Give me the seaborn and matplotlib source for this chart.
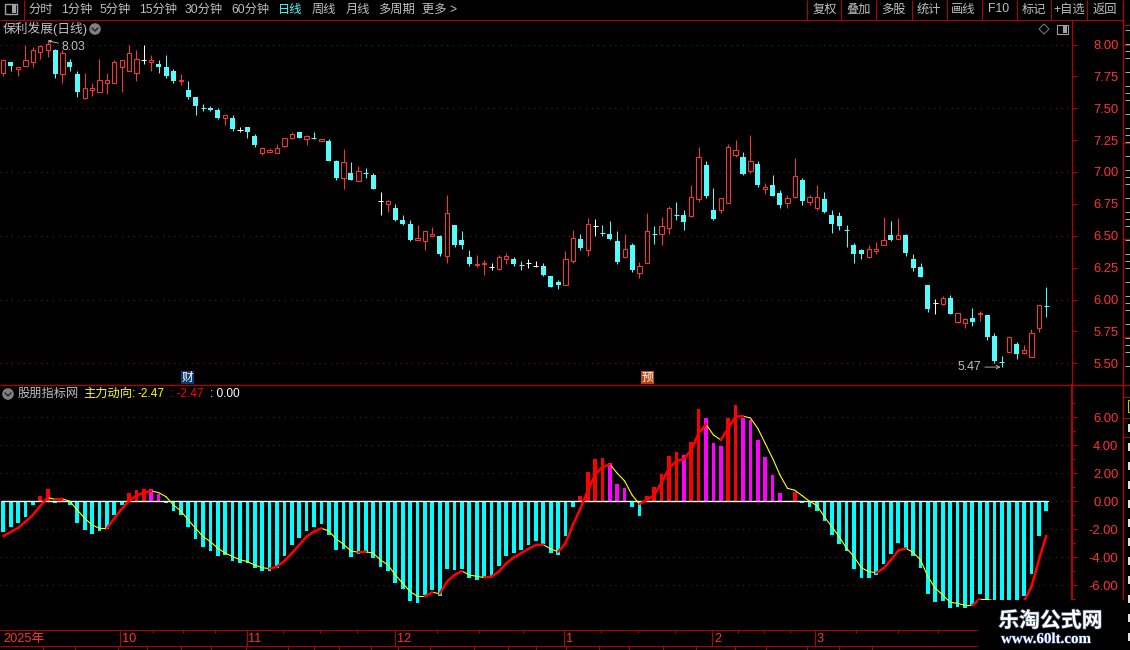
import matplotlib
matplotlib.use("Agg")
import matplotlib.pyplot as plt
import matplotlib.patheffects as pe
from matplotlib.patches import Circle, Rectangle, Polygon
import numpy as np
import pandas as pd
import seaborn as sns

# ---------- data ----------
opens = [7.78,7.86,7.81,7.83,7.86,7.94,7.96,7.96,7.77,7.86,
         7.77,7.58,7.64,7.63,7.70,7.70,7.82,7.79,7.78,7.88,
         7.86,7.85,7.82,7.79,7.71,7.64,7.59,7.505,7.50,7.49,
         7.42,7.42,7.33,7.35,7.28,7.15,7.16,7.15,7.20,7.27,
         7.31,7.26,7.275,7.24,7.24,7.09,6.95,6.99,6.93,6.995,
         6.98,6.77,6.75,6.72,6.62,6.59,6.465,6.46,6.50,6.50,
         6.34,6.585,6.47,6.33,6.27,6.275,6.255,6.24,6.315,6.32,
         6.275,6.285,6.26,6.26,6.185,6.14,6.11,6.30,6.475,6.385,
         6.575,6.525,6.515,6.46,6.33,6.43,6.21,6.29,6.515,6.51,
         6.56,6.665,6.66,6.655,6.79,7.055,6.70,6.70,6.76,7.13,
         7.118,7.01,7.063,6.867,6.90,6.836,6.755,6.80,6.94,6.765,
         6.72,6.79,6.663,6.655,6.55,6.43,6.39,6.33,6.383,6.43,
         6.506,6.477,6.506,6.318,6.255,6.114,5.97,5.965,6.012,5.824,
         5.816,5.855,5.884,5.879,5.714,5.515,5.591,5.651,5.583,5.549,5.777,5.955]
closes = [7.88,7.83,7.82,7.88,7.96,7.99,8.00,7.77,7.93,7.82,
          7.63,7.66,7.66,7.72,7.72,7.86,7.88,7.93,7.89,7.88,
          7.88,7.82,7.75,7.71,7.72,7.59,7.52,7.50,7.49,7.42,
          7.45,7.34,7.33,7.31,7.21,7.19,7.17,7.19,7.27,7.30,
          7.27,7.28,7.27,7.26,7.09,6.95,7.08,6.94,7.01,6.99,
          6.87,6.77,6.77,6.62,6.59,6.47,6.48,6.535,6.51,6.36,
          6.68,6.43,6.43,6.28,6.28,6.285,6.255,6.33,6.34,6.28,
          6.27,6.285,6.26,6.19,6.10,6.11,6.32,6.48,6.40,6.59,
          6.575,6.52,6.475,6.295,6.395,6.23,6.26,6.535,6.51,6.58,
          6.715,6.66,6.61,6.80,7.115,6.81,6.63,6.80,7.195,7.17,
          6.985,7.084,6.90,6.88,6.81,6.74,6.80,6.966,6.773,6.804,
          6.80,6.686,6.59,6.577,6.545,6.357,6.357,6.394,6.394,6.464,
          6.467,6.506,6.365,6.247,6.18,5.926,5.97,6.01,5.887,5.892,
          5.845,5.824,5.895,5.706,5.518,5.51,5.704,5.573,5.602,5.735,5.955,5.95]
highs = [7.89,7.86,7.82,8.00,7.98,8.00,8.03,7.965,7.96,7.89,
         7.79,7.78,7.70,7.89,7.78,7.88,7.88,8.00,7.96,8.00,
         7.92,7.88,7.92,7.81,7.77,7.71,7.59,7.53,7.52,7.50,
         7.45,7.45,7.35,7.35,7.30,7.20,7.19,7.22,7.27,7.31,
         7.315,7.29,7.31,7.26,7.26,7.095,7.18,7.08,7.05,7.03,
         6.99,6.84,6.78,6.75,6.66,6.62,6.585,6.535,6.57,6.505,
         6.82,6.585,6.54,6.39,6.35,6.31,6.29,6.35,6.365,6.33,
         6.30,6.32,6.30,6.29,6.185,6.15,6.38,6.545,6.515,6.64,
         6.63,6.585,6.615,6.54,6.515,6.44,6.295,6.68,6.575,6.65,
         6.73,6.765,6.70,6.90,7.196,7.09,6.875,6.80,7.22,7.25,
         7.157,7.29,7.084,6.914,6.977,6.86,6.82,7.11,6.953,6.82,
         6.90,6.843,6.70,6.686,6.585,6.44,6.40,6.43,6.45,6.647,
         6.615,6.64,6.514,6.357,6.287,6.114,6.004,6.028,6.036,5.892,
         5.855,5.934,5.908,5.879,5.738,5.557,5.706,5.667,5.643,5.769,5.955,6.098]
lows = [7.75,7.79,7.75,7.83,7.82,7.89,7.90,7.74,7.70,7.79,
        7.59,7.57,7.60,7.63,7.61,7.70,7.63,7.79,7.71,7.85,
        7.79,7.78,7.74,7.70,7.68,7.57,7.45,7.48,7.48,7.415,
        7.37,7.32,7.31,7.27,7.20,7.13,7.16,7.15,7.195,7.26,
        7.265,7.21,7.26,7.24,7.09,6.94,6.87,6.94,6.93,6.95,
        6.87,6.66,6.69,6.615,6.585,6.46,6.465,6.39,6.50,6.34,
        6.29,6.41,6.40,6.26,6.255,6.19,6.23,6.235,6.28,6.26,
        6.23,6.25,6.255,6.185,6.10,6.08,6.11,6.29,6.39,6.34,
        6.50,6.50,6.47,6.28,6.325,6.215,6.17,6.285,6.435,6.43,
        6.515,6.625,6.545,6.65,6.765,6.80,6.625,6.68,6.76,7.115,
        6.977,6.99,6.88,6.83,6.81,6.72,6.72,6.80,6.74,6.74,
        6.70,6.68,6.52,6.545,6.41,6.29,6.318,6.326,6.357,6.43,
        6.46,6.477,6.34,6.224,6.18,5.90,5.887,5.957,5.887,5.816,
        5.777,5.793,5.832,5.683,5.50,5.47,5.591,5.534,5.573,5.549,5.745,5.863]

hist = [-2.19,-1.83,-1.55,-1.12,-0.26,0.38,0.88,-0.12,0.21,-0.26,
        -1.55,-2.05,-2.33,-2.12,-1.98,-0.98,-0.26,0.60,0.81,0.88,
        0.88,0.55,-0.12,-0.69,-0.98,-1.83,-2.69,-3.26,-3.55,-3.90,
        -3.83,-4.26,-4.40,-4.40,-4.76,-4.98,-4.98,-4.76,-3.90,-3.12,
        -2.62,-2.12,-1.83,-1.62,-2.40,-3.48,-3.40,-3.98,-3.76,-3.69,
        -4.05,-4.69,-4.98,-5.83,-6.26,-7.12,-7.26,-6.69,-6.33,-6.76,
        -4.83,-4.90,-4.83,-5.48,-5.62,-5.48,-5.33,-4.62,-3.90,-3.69,
        -3.48,-3.12,-2.83,-3.05,-3.69,-3.83,-2.48,-0.40,0.38,2.10,
        3.02,3.10,2.74,1.24,0.95,-0.40,-1.05,0.38,1.02,1.95,
        3.24,3.52,3.31,4.24,6.60,5.95,4.17,3.95,5.95,6.88,
        5.95,5.81,4.38,3.17,1.88,0.60,0.0,0.67,-0.12,-0.40,
        -0.69,-1.40,-2.40,-3.05,-3.55,-4.83,-5.48,-5.48,-5.26,-4.48,
        -3.76,-2.98,-3.40,-3.90,-4.76,-6.62,-7.19,-7.12,-7.62,-7.55,
        -7.62,-7.40,-6.62,-7.05,-7.05,-7.05,-7.05,-7.05,-6.76,-5.19,-2.48,-0.69]

main_line = [-2.48,-2.19,-1.90,-1.45,-0.98,-0.33,0.26,0.14,0.17,0.0,
             -0.62,-1.21,-1.69,-1.93,-1.93,-1.21,-0.55,0.02,0.40,0.62,
             0.74,0.62,0.33,-0.26,-0.69,-1.33,-1.93,-2.52,-2.88,-3.36,
             -3.69,-3.95,-4.17,-4.31,-4.55,-4.74,-4.81,-4.67,-4.26,-3.71,
             -3.12,-2.52,-2.17,-1.93,-2.12,-2.69,-3.07,-3.55,-3.64,-3.60,
             -3.71,-4.19,-4.55,-5.26,-5.86,-6.45,-6.79,-6.79,-6.50,-6.60,
             -5.74,-5.26,-4.98,-5.26,-5.36,-5.45,-5.38,-5.02,-4.43,-4.02,
             -3.71,-3.40,-3.12,-3.10,-3.40,-3.60,-3.00,-1.69,-0.55,0.74,
             1.93,2.43,2.64,2.00,1.45,0.45,-0.19,0.10,0.45,1.36,
             2.36,2.88,3.02,3.67,4.86,5.50,4.74,4.38,5.21,6.05,
             6.08,5.95,5.21,4.14,3.07,1.88,0.93,0.79,0.40,0.0,
             -0.31,-1.10,-1.81,-2.52,-3.36,-3.95,-4.74,-5.02,-5.10,-4.79,
             -4.19,-3.52,-3.36,-3.64,-4.19,-5.38,-6.21,-6.69,-7.21,-7.29,
             -7.43,-7.43,-7.00,-7.00,-7.10,-7.25,-7.30,-7.20,-7.12,-6.10,-4.19,-2.47]

price_ticks = [8.00,7.75,7.50,7.25,7.00,6.75,6.50,6.25,6.00,5.75,5.50]
price_grid = [8.00,7.50,7.00,6.50,6.00,5.50]
ind_ticks = [6,4,2,0,-2,-4,-6]
ind_minor = [7,5,3,1,-1,-3,-5,-7]

left_tabs = ["分时","1分钟","5分钟","15分钟","30分钟","60分钟","日线","周线","月线","多周期","更多 >"]
left_tab_x = [28,61,100,139,185,231,278,312,346,378,422]
right_tabs = ["复权","叠加","多股","统计","画线","F10","标记","+自选","返回"]
right_tab_x = [824.5,858.5,893.5,928.5,963,999,1033.5,1069,1104.5]
tab_seps = [807,841,876,912,947,982,1017,1051,1087]
month_labels = ["2025年","10","11","12","1","2","3"]
month_x = [3,122,248,397,566,714,817]
month_seps = [120.3,246.7,394.7,564.3,712.3,815.3]
minor_top = [153,183,215,283,320,357,437,479,523,601,638,675,738,764,790,856,898,938]
minor_bot = [43,75,118,147,181,211,246,288,314,339,371,398,430,474,508,536,566,599,629,663,696,735,766,807,839,872]

assert all(len(a) == 142 for a in (opens, closes, highs, lows, hist, main_line))

# ---------- style ----------
BG = "#000000"
FRAME = "#B40000"
GRID = "#8A0F0F"
C_UP = "#FF3232"
C_DN = "#54FCFC"
TXT = "#C0C0C0"
sns.set_theme(style="dark", rc={"figure.facecolor": BG, "axes.facecolor": BG, "savefig.facecolor": BG,
                                "axes.edgecolor": FRAME, "axes.grid": False})
plt.rcParams["font.family"] = ["Liberation Sans", "Noto Sans CJK SC", "DejaVu Sans"]

W, H = 1130, 650
fig = plt.figure(figsize=(W / 100, H / 100), dpi=100, facecolor=BG)


def pane(x0, y0, x1, y1):
    return fig.add_axes([x0 / W, 1 - y1 / H, (x1 - x0) / W, (y1 - y0) / H])


PX = 7.397
X0 = 3.3
xlim = ((0 - X0) / PX, (1072.3 - X0) / PX)
PXW = 0.72  # one pixel in points

# ---------- price pane ----------
ax = pane(0, 20, 1072.3, 385.3)
ax.set_facecolor(BG)
n = len(opens)
idx = np.arange(n)
o, c, hi, lo = map(np.array, (opens, closes, highs, lows))
col = np.where(c > o, C_UP, np.where(c < o, C_DN, "#FFFFFF"))
for y in price_grid:
    ax.axhline(y, color=GRID, lw=PXW, ls=(0, (1, 4.8)), zorder=1)
ax.vlines(idx, lo, hi, colors=col, lw=PXW, zorder=2).set_snap(True)
thin = np.abs(c - o) < 0.008
up = (c > o) & ~thin
dn = (c < o) & ~thin
ax.bar(idx[dn], (o - c)[dn], bottom=c[dn], width=0.68, color=C_DN, linewidth=0, zorder=3)
ax.bar(idx[up], (c - o)[up], bottom=o[up], width=0.58, facecolor=BG, edgecolor=C_UP, linewidth=PXW, zorder=3)
ax.hlines(c[thin], idx[thin] - 0.34, idx[thin] + 0.34, colors=col[thin], lw=PXW, zorder=3).set_snap(True)
ax.set_xlim(xlim)
ax.set_ylim(8 - (385.3 - 44.5) / 127.5, 8 + (44.5 - 20) / 127.5)
ax.yaxis.tick_right()
ax.set_yticks(price_ticks)
ax.set_yticklabels([f"{v:.2f}" for v in price_ticks], color=C_UP, fontsize=9.4, ha="right")
ax.tick_params(axis="y", length=3.6, width=PXW, color=FRAME, pad=29.5, right=True, left=False)
ax.set_xticks([])
for s in ("top", "left", "bottom"):
    ax.spines[s].set_visible(False)
ax.spines["right"].set_color(FRAME)
ax.spines["right"].set_linewidth(PXW * 1.2)
ax.annotate("5.47", xy=(135, lows[135]), xycoords="data", xytext=(-44, 0), textcoords="offset pixels",
            fontsize=8.8, color=TXT, va="center", ha="left",
            arrowprops=dict(arrowstyle="->", color=TXT, lw=0.6, mutation_scale=6, shrinkA=0, shrinkB=1))
ax.annotate("8.03", xy=(6, highs[6]), xycoords="data", xytext=(14, -6), textcoords="offset pixels",
            fontsize=8.8, color=TXT, va="center", ha="left",
            arrowprops=dict(arrowstyle="->", color=TXT, lw=0.6, mutation_scale=5, shrinkA=0, shrinkB=0))

# ---------- indicator pane ----------
ax2 = pane(0, 385.3, 1072.3, 630)
ax2.set_facecolor(BG)
v = np.array(hist)
prev = np.r_[v[0], v[:-1]]
kind = np.where(v < 0, "down", np.where(v > prev, "rise", "fade"))
bars = pd.DataFrame({"i": idx, "v": v, "kind": kind})
sns.barplot(data=bars, x="i", y="v", hue="kind", native_scale=True, dodge=False, width=0.5, saturation=1,
            palette={"down": "#00FFFF", "rise": "#FF0000", "fade": "#FF00FF"}, linewidth=0,
            errorbar=None, legend=False, ax=ax2, zorder=3)
for y in [6, 4, 2, -2, -4, -6]:
    ax2.axhline(y, color=GRID, lw=PXW, ls=(0, (1, 4.8)), zorder=1)
ax2.axhline(0, color=GRID, lw=PXW, ls=(0, (1, 4.8)), zorder=1)
sns.lineplot(x=[idx[0] - 0.2, idx[-1] + 0.25], y=[0, 0], color="#FFFFFF", lw=1.0, ax=ax2, zorder=4)

m = np.array(main_line)
rows_up, rows_dn = [], []
for i in range(n - 1):
    rows = rows_up if m[i + 1] > m[i] else rows_dn
    rows.append({"seg": i, "i": i, "m": m[i]})
    rows.append({"seg": i, "i": i + 1, "m": m[i + 1]})
sns.lineplot(data=pd.DataFrame(rows_dn), x="i", y="m", units="seg", estimator=None, sort=False,
             color="#FFFF00", lw=0.8, ax=ax2, zorder=5)
sns.lineplot(data=pd.DataFrame(rows_up), x="i", y="m", units="seg", estimator=None, sort=False,
             color="#FF0000", lw=1.8, ax=ax2, zorder=6, solid_capstyle="round")
ax2.set_xlim(xlim)
ax2.set_ylim(-(630 - 501.3) / 14, (501.3 - 385.3) / 14)
ax2.set_xlabel("")
ax2.set_ylabel("")
ax2.yaxis.tick_right()
ax2.set_yticks(ind_ticks)
ax2.set_yticklabels([f"{t:.2f}" for t in ind_ticks], color=C_UP, fontsize=9.4, ha="right")
ax2.set_yticks(ind_minor, minor=True)
ax2.tick_params(axis="y", which="major", length=3.6, width=PXW, color=FRAME, pad=29.5, right=True, left=False)
ax2.tick_params(axis="y", which="minor", length=2.2, width=PXW, color=FRAME, right=True, left=False)
ax2.set_xticks([])
for s in ("top", "left", "bottom"):
    ax2.spines[s].set_visible(False)
ax2.spines["right"].set_color(FRAME)
ax2.spines["right"].set_linewidth(1.5)

# ---------- chrome overlay, in pixel coordinates ----------
ov = fig.add_axes([0, 0, 1, 1], zorder=10)
ov.set_xlim(0, W)
ov.set_ylim(H, 0)
ov.axis("off")
ov.patch.set_alpha(0)


def hline(y, x0, x1, lw=1.0, color=FRAME):
    ov.plot([x0, x1], [y, y], color=color, lw=lw * PXW, solid_capstyle="butt", zorder=2)


def vline(x, y0, y1, lw=1.0, color=FRAME):
    ov.plot([x, x], [y0, y1], color=color, lw=lw * PXW, solid_capstyle="butt", zorder=2)


# toolbar
hline(19.5, 0, 1123)
vline(23.5, 0, 19.5)
vline(1123, 0, 600, lw=1.3)
for xs in tab_seps:
    vline(xs, 0, 19.5)
for s, x in zip(left_tabs, left_tab_x):
    ov.text(x, 9.5, s, fontsize=8.8, color="#54FCFC" if s == "日线" else TXT, ha="left", va="center")
for s, x in zip(right_tabs, right_tab_x):
    ov.text(x, 9.5, s, fontsize=8.8, color=TXT, ha="center", va="center")
ov.add_patch(Rectangle((5, 4), 12, 10, fc=BG, ec="#A0A0A0", lw=1.0, zorder=3))
ov.add_patch(Rectangle((11.5, 5), 4.5, 8, fc="#A0A0A0", ec="none", zorder=3))

# pane headers
ov.text(3, 29, "保利发展(日线)", fontsize=9.2, color=TXT, ha="left", va="center")
for cx, cy in [(95, 29), (8, 394)]:
    ov.add_patch(Circle((cx, cy), 5.8, fc="#808080", ec="none", zorder=3))
    ov.plot([cx - 3, cx, cx + 3], [cy - 1, cy + 2, cy - 1], color="#202020", lw=1.0, zorder=4)
ov.add_patch(Polygon([(1044, 24), (1049, 29), (1044, 34), (1039, 29)], fc=BG, ec="#808080", lw=0.7, zorder=3))
ov.add_patch(Rectangle((1057, 24.5), 11, 9.5, fc=BG, ec="#A0A0A0", lw=0.8, zorder=3))
ov.add_patch(Rectangle((1063, 25.5), 4, 7.5, fc="#A0A0A0", ec="none", zorder=3))

hline(385.3, 0, 1123, lw=1.3)
ov.text(18, 394, "股朋指标网", fontsize=8.8, color=TXT, ha="left", va="center")
ov.text(83, 394, "主力动向:", fontsize=8.8, color="#FFFF00", ha="left", va="center")
ov.text(137, 394, "-2.47", fontsize=8.6, color="#FFFF00", ha="left", va="center")
ov.text(170, 394, ": -2.47", fontsize=8.6, color="#FF0000", ha="left", va="center")
ov.text(210, 394, ": 0.00", fontsize=8.6, color="#FFFFFF", ha="left", va="center")

# event badges
for x, s, bgc in [(187, "财", "#0B3B70"), (647, "预", "#B5480F")]:
    ov.add_patch(Rectangle((x - 6.5, 371), 13, 13, fc=bgc, ec="none", zorder=3))
    ov.text(x, 377.5, s, fontsize=8.4, color="#FFFFFF", ha="center", va="center", zorder=4)

# time axis
hline(630, 0, 978)
hline(646, 0, 978)
for x in month_seps:
    vline(x, 630, 646)
for x in minor_top:
    vline(x, 630, 633)
for x in minor_bot:
    vline(x, 646, 650)
for s, x in zip(month_labels, month_x):
    ov.text(x, 639, s, fontsize=9.2, color=C_UP, ha="left", va="center")

# cut-off side panel at the right edge
for y in (25, 45, 143, 239, 337, 397, 418, 437):
    hline(y, 1123, 1130)
hline(385.3, 1123, 1130, lw=1.3)
for y in range(30, 380, 7):
    if y % 14 == 2 or y % 21 == 9:
        hline(y, 1125, 1130, color="#A8A8A8")
for y in range(424, 640, 19):
    ov.add_patch(Rectangle((1127.5, y), 2.5, 8, fc="#E0E0E0", ec="none", zorder=3))
ov.add_patch(Rectangle((1127.5, 400), 3, 12, fc=BG, ec="#C8C800", lw=0.8, zorder=3))

# watermark block
ov.add_patch(Rectangle((978, 600), 147, 50, fc=BG, ec="none", zorder=5))
ov.text(1050.5, 621, "乐淘公式网", fontsize=15, fontweight="bold", color="#FFFFFF", ha="center", va="center", zorder=6,
        path_effects=[pe.withStroke(linewidth=1.0, foreground="#40506A")])
ov.text(1046, 639.5, "www.60lt.com", fontsize=10.8, fontweight="bold", family=["Liberation Serif"], color="#FFFFFF",
        ha="center", va="center", zorder=6, path_effects=[pe.withStroke(linewidth=0.8, foreground="#24408A")])

fig.savefig("out.png", dpi=100, facecolor=BG)
